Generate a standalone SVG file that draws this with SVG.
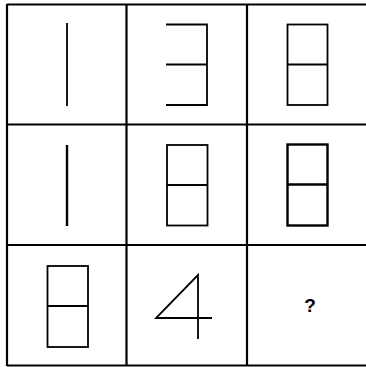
<svg xmlns="http://www.w3.org/2000/svg" width="366" height="367" viewBox="0 0 366 367">
<style>
.grid{stroke:#000;stroke-width:2.2;fill:none}
.fig{stroke:#000;stroke-width:1.8;fill:none}
.thick{stroke:#000;stroke-width:2.4;fill:none}
.q{font-family:"Liberation Sans",Arial,sans-serif;font-weight:bold;font-size:19px;fill:#000}
</style>
<rect width="366" height="367" fill="#fff"/>
<g id="grid">
<path class="grid" d="M7,4.5 H366 M7,124.5 H366 M7,245 H366 M7,365.5 H366 M7,4 V366 M126.5,4 V366 M247,4 V366"/>
</g>
<g id="cell-1-1"><line class="fig" x1="67" y1="23" x2="67" y2="106"/></g>
<g id="cell-1-2"><path class="fig" d="M166,24.5 H207 V105 H166 M166,64.5 H207"/></g>
<g id="cell-1-3"><rect class="fig" x="287.5" y="24.5" width="40" height="80.5"/><line class="fig" x1="287.5" y1="64.5" x2="327.5" y2="64.5"/></g>
<g id="cell-2-1"><line class="thick" x1="67" y1="145" x2="67" y2="226"/></g>
<g id="cell-2-2"><rect class="fig" x="167" y="145" width="40.5" height="80.5"/><line class="fig" x1="167" y1="185" x2="207.5" y2="185"/></g>
<g id="cell-2-3"><rect class="thick" x="287.5" y="144.5" width="40" height="81"/><line class="thick" x1="287.5" y1="184.5" x2="327.5" y2="184.5"/></g>
<g id="cell-3-1"><rect class="fig" x="47.5" y="266" width="40.5" height="81"/><line class="fig" x1="47.5" y1="306" x2="88" y2="306"/></g>
<g id="cell-3-2"><path class="fig" d="M198,339 V275 L156,318 H212"/></g>
<g id="cell-3-3"><text class="q" x="310" y="312" text-anchor="middle">?</text></g>
</svg>
